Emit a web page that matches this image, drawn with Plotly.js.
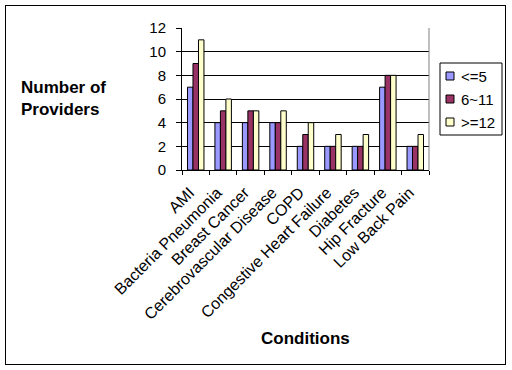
<!DOCTYPE html>
<html>
<head>
<meta charset="utf-8">
<script src="https://cdn.plot.ly/plotly-3.0.1.min.js"></script>
<style>
  html, body { margin: 0; padding: 0; background: #fff; }
  #wrap { position: relative; width: 512px; height: 370px; }
  #chart { width: 512px; height: 370px; }
  #frame { position: absolute; left: 5px; top: 5px; width: 499px; height: 358px; border: 1px solid #000; pointer-events: none; }
</style>
</head>
<body>
<div id="wrap">
  <div id="chart"></div>
  <div id="frame"></div>
</div>
<script>
const categories = ["AMI", "Bacteria Pneumonia", "Breast Cancer", "Cerebrovascular Disease", "COPD",
  "Congestive Heart Failure", "Diabetes", "Hip Fracture", "Low Back Pain"];
const seriesNames = ["<=5", "6~11", ">=12"];
const valuesLe5 = [7, 4, 4, 4, 2, 2, 2, 7, 2];
const values6to11 = [9, 5, 5, 4, 3, 2, 2, 8, 2];
const valuesGe12 = [11, 6, 5, 5, 4, 3, 3, 8, 3];
const yTicks = [0, 2, 4, 6, 8, 10, 12];

const colors = ["#9999FF", "#993366", "#FFFFCC"];
const allValues = [valuesLe5, values6to11, valuesGe12];

// plot area in pixels
const M = { l: 182, r: 83, t: 28, b: 200 };
const W = 512, H = 370;
const pw = W - M.l - M.r, ph = H - M.t - M.b;
const px = x => (x - M.l) / pw;
const py = y => (H - M.b - y) / ph;

const traces = allValues.map((v, i) => ({
  type: "bar",
  name: seriesNames[i],
  x: categories,
  y: v,
  marker: { color: colors[i], line: { color: "#000", width: 1 } },
  hoverinfo: "skip",
  showlegend: false
}));

// hand-drawn legend (Excel style)
const legendBox = { x0: 440, x1: 502, y0: 63, y1: 135 };
const legendRowY = [76, 99, 122];
const shapes = [
  { type: "line", xref: "paper", yref: "paper", x0: 1, x1: 1, y0: 0, y1: 1, line: { color: "#808080", width: 1 } },
  { type: "rect", xref: "paper", yref: "paper", x0: px(legendBox.x0), x1: px(legendBox.x1),
    y0: py(legendBox.y1), y1: py(legendBox.y0), line: { color: "#000", width: 1 }, fillcolor: "#fff" }
];
const annotations = [
  { text: "<b>Number of<br>Providers</b>", xref: "paper", yref: "paper", x: px(19), y: py(98),
    xanchor: "left", yanchor: "middle", showarrow: false, align: "left", font: { size: 17 } },
  { text: "<b>Conditions</b>", xref: "paper", yref: "paper", x: 0.5, y: py(338),
    xanchor: "center", yanchor: "middle", showarrow: false, font: { size: 17 } }
];
seriesNames.forEach((name, i) => {
  const cy = legendRowY[i];
  shapes.push({ type: "rect", xref: "paper", yref: "paper", x0: px(446), x1: px(454),
    y0: py(cy + 4), y1: py(cy - 4), line: { color: "#000", width: 1 }, fillcolor: colors[i] });
  annotations.push({ text: name, xref: "paper", yref: "paper", x: px(459), y: py(cy),
    xanchor: "left", yanchor: "middle", showarrow: false, font: { size: 15 } });
});

const layout = {
  width: W, height: H,
  margin: M,
  paper_bgcolor: "#fff",
  plot_bgcolor: "#fff",
  font: { family: "Liberation Sans, Arial, sans-serif", size: 15, color: "#000" },
  barmode: "group",
  bargap: 0.4,
  bargroupgap: 0,
  showlegend: false,
  xaxis: {
    type: "category",
    tickangle: -45,
    tickson: "boundaries",
    ticks: "outside", ticklen: 4, tickcolor: "#000",
    ticklabelstandoff: 6,
    ticklabelshift: -6,
    showline: true, linecolor: "#000", linewidth: 1,
    showgrid: false,
    tickfont: { size: 16 },
    fixedrange: true
  },
  yaxis: {
    range: [0, 12],
    tickvals: yTicks,
    ticks: "outside", ticklen: 5, tickcolor: "#000",
    ticklabelstandoff: 7,
    showline: true, linecolor: "#000", linewidth: 1,
    showgrid: true, gridcolor: "#000", gridwidth: 1,
    zeroline: false,
    tickfont: { size: 15 },
    fixedrange: true
  },
  shapes: shapes,
  annotations: annotations
};

Plotly.newPlot("chart", traces, layout, { displayModeBar: false, staticPlot: true });
</script>
</body>
</html>
